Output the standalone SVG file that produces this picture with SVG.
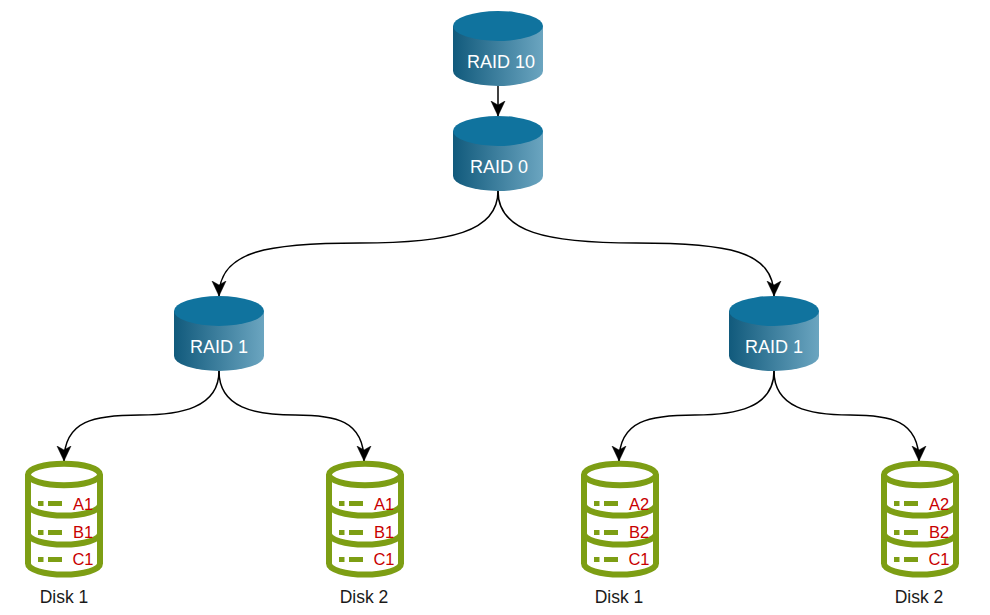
<svg xmlns="http://www.w3.org/2000/svg" width="990" height="615" viewBox="0 0 990 615">
<style>
.wire{fill:none;stroke:#000;stroke-width:1.5;marker-end:url(#head)}
.raid{font:18px "Liberation Sans",Arial,sans-serif;fill:#fff;text-anchor:middle}
.cap{font:17.500px "Liberation Sans",Arial,sans-serif;fill:#1a1a1a;text-anchor:middle}
.slot{font:16.500px "Liberation Sans",Arial,sans-serif;fill:#c80000;text-anchor:middle}
.shell{fill:none;stroke:#7d9e14;stroke-width:6}
.dash{fill:#7d9e14}
</style>
<defs>
<linearGradient id="body" x1="0" x2="1" y1="0" y2="0">
<stop offset="0" stop-color="#115a7c"/>
<stop offset="1" stop-color="#6ba5c0"/>
</linearGradient>
<marker id="head" markerUnits="userSpaceOnUse" markerWidth="17" markerHeight="18" refX="15" refY="9" orient="auto">
<path d="M0 2L15 9L0 16L4 9Z" fill="#000" stroke="#000" stroke-width="0.5"/>
</marker>
<g id="cyl">
<path d="M0 15V60A45 15 0 0 0 90 60V15Z" fill="url(#body)"/>
<ellipse cx="45" cy="15" rx="45" ry="15" fill="#10739e"/>
</g>
<g id="drum">
<ellipse cx="38" cy="13.500" rx="36" ry="10.700" class="shell"/>
<path class="shell" d="M2 13.500V102.500A36 11 0 0 0 74 102.500V13.500"/>
<path class="shell" d="M2 43.500A36 11 0 0 0 74 43.500"/>
<path class="shell" d="M2 72.500A36 11 0 0 0 74 72.500"/>
<rect class="dash" x="12" y="40" width="5.500" height="5"/><rect class="dash" x="22" y="40" width="14" height="5"/>
<rect class="dash" x="12" y="69" width="5.500" height="5"/><rect class="dash" x="22" y="69" width="14" height="5"/>
<rect class="dash" x="12" y="96" width="5.500" height="5"/><rect class="dash" x="22" y="96" width="14" height="5"/>
</g>
</defs>
<g id="connectors">
<path class="wire" d="M498 86V116"/>
<path class="wire" d="M498 191C498 232 450 243 360 243C270 243 219 250 219 296"/>
<path class="wire" d="M498 191C498 232 546 243 636 243C726 243 774 250 774 296"/>
<path class="wire" d="M219 371C219 408 180 415 140 415C95 415 64 420 64 461"/>
<path class="wire" d="M219 371C219 408 255 415 295 415C335 415 364 420 364 461"/>
<path class="wire" d="M774 371C774 408 735 415 695 415C650 415 619 420 619 461"/>
<path class="wire" d="M774 371C774 408 810 415 850 415C890 415 919 420 919 461"/>
</g>
<g id="raid10"><use href="#cyl" x="453" y="11"/><text class="raid" x="501" y="68">RAID 10</text></g>
<g id="raid0"><use href="#cyl" x="453" y="116"/><text class="raid" x="499" y="173">RAID 0</text></g>
<g id="raid1-left"><use href="#cyl" x="174" y="296"/><text class="raid" x="219" y="353">RAID 1</text></g>
<g id="raid1-right"><use href="#cyl" x="729" y="296"/><text class="raid" x="774" y="353">RAID 1</text></g>
<g id="disk1-left"><use href="#drum" x="26" y="461"/>
<text class="slot" x="83" y="510">A1</text><text class="slot" x="83" y="537.500">B1</text><text class="slot" x="83" y="565">C1</text>
<text class="cap" x="64" y="603">Disk 1</text></g>
<g id="disk2-left"><use href="#drum" x="327" y="461"/>
<text class="slot" x="384" y="510">A1</text><text class="slot" x="384" y="537.500">B1</text><text class="slot" x="384" y="565">C1</text>
<text class="cap" x="364" y="603">Disk 2</text></g>
<g id="disk1-right"><use href="#drum" x="582" y="461"/>
<text class="slot" x="639" y="510">A2</text><text class="slot" x="639" y="537.500">B2</text><text class="slot" x="639" y="565">C1</text>
<text class="cap" x="619" y="603">Disk 1</text></g>
<g id="disk2-right"><use href="#drum" x="882" y="461"/>
<text class="slot" x="939" y="510">A2</text><text class="slot" x="939" y="537.500">B2</text><text class="slot" x="939" y="565">C1</text>
<text class="cap" x="919" y="603">Disk 2</text></g>
</svg>
